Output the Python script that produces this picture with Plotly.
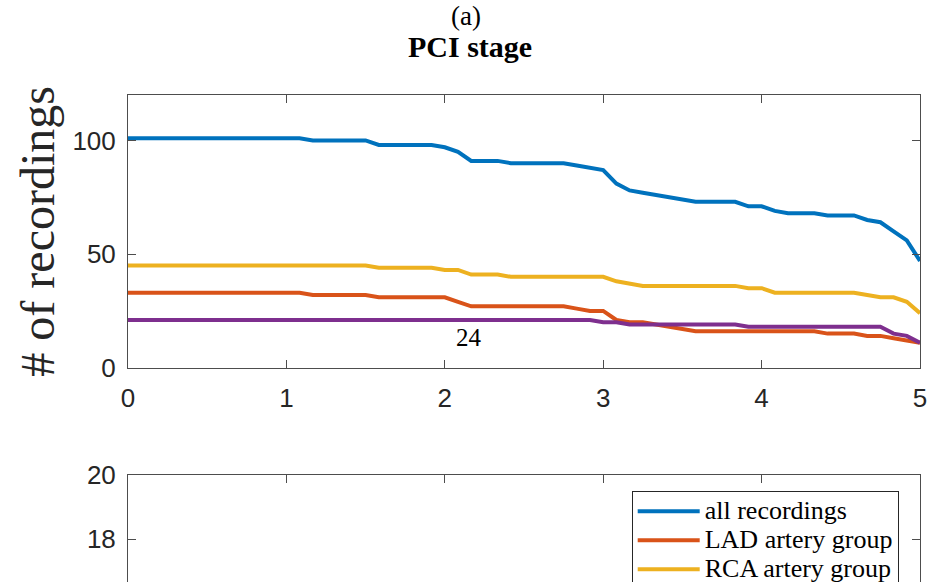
import plotly.graph_objects as go

# ---- data (x in months, shown in years) ----
months = [0, 1, 2, 3, 4, 5, 6, 7, 8, 9, 10, 11, 12, 13, 14, 15, 16, 17, 18, 19, 20,
          21, 22, 23, 24, 25, 26, 27, 28, 29, 30, 31, 32, 33, 34, 35, 36, 37, 38, 39, 40,
          41, 42, 43, 44, 45, 46, 47, 48, 49, 50, 51, 52, 53, 54, 55, 56, 57, 58, 59, 60]

all_recordings = [101, 101, 101, 101, 101, 101, 101, 101, 101, 101, 101, 101, 101, 101,
                  100, 100, 100, 100, 100, 98, 98, 98, 98, 98, 97, 95, 91, 91, 91,
                  90, 90, 90, 90, 90, 89, 88, 87, 81, 78, 77, 76, 75, 74,
                  73, 73, 73, 73, 71, 71, 69, 68, 68, 68, 67, 67, 67, 65, 64, 60, 56, 47]

lad_group = [33, 33, 33, 33, 33, 33, 33, 33, 33, 33, 33, 33, 33, 33,
             32, 32, 32, 32, 32, 31, 31, 31, 31, 31, 31, 29,
             27, 27, 27, 27, 27, 27, 27, 27, 26, 25, 25, 21, 20, 20, 19, 18, 17,
             16, 16, 16, 16, 16, 16, 16, 16, 16, 16, 15, 15, 15, 14, 14, 13, 12, 11]

rca_group = [45, 45, 45, 45, 45, 45, 45, 45, 45, 45, 45, 45, 45, 45, 45, 45, 45, 45, 45,
             44, 44, 44, 44, 44, 43, 43, 41, 41, 41,
             40, 40, 40, 40, 40, 40, 40, 40, 38, 37,
             36, 36, 36, 36, 36, 36, 36, 36, 35, 35,
             33, 33, 33, 33, 33, 33, 33, 32, 31, 31, 29, 24]

lcx_group = [21, 21, 21, 21, 21, 21, 21, 21, 21, 21, 21, 21, 21, 21, 21, 21, 21, 21,
             21, 21, 21, 21, 21, 21, 21, 21, 21, 21, 21, 21, 21, 21, 21, 21, 21, 21,
             20, 20, 19, 19, 19, 19, 19, 19, 19, 19, 19,
             18, 18, 18, 18, 18, 18, 18, 18, 18, 18, 18, 15, 14, 11]

series_names = ["all recordings", "LAD artery group", "RCA artery group", "LCX artery group"]
series_colors = ["#0072BD", "#D95319", "#EDB120", "#7E2F8E"]

x_ticks = [0, 1, 2, 3, 4, 5]
y_ticks_top = [0, 50, 100]
y_ticks_bottom = [18, 20]

panel_label = "(a)"
panel_title = "PCI stage"
y_title = "# of recordings"
note_text = "24"
note_x = 2.15
note_y = 13.3

years = [m / 12 for m in months]

fig = go.Figure()
for name, vals, col in zip(series_names,
                           [all_recordings, lad_group, rca_group, lcx_group],
                           series_colors):
    fig.add_trace(go.Scatter(
        x=years, y=vals, mode="lines",
        name='<span style="font-size:26px">' + name + "</span>",
        line=dict(color=col, width=4),
        xaxis="x", yaxis="y",
        hoverinfo="skip",
    ))

# empty trace so that the lower panel is drawn
fig.add_trace(go.Scatter(x=[], y=[], xaxis="x2", yaxis="y2", showlegend=False,
                         hoverinfo="skip"))

axis_col = "#4d4d4d"
tickfont = dict(family="Liberation Sans, Arial, sans-serif", size=26, color="#262626")
serif = "Liberation Serif, Times New Roman, serif"

common = dict(ticks="inside", ticklen=8, tickwidth=1, tickcolor=axis_col,
              showline=True, linecolor=axis_col, linewidth=1,
              showgrid=False, zeroline=False, tickfont=tickfont, automargin=False)

# The figure is taller than the window: the lower panel continues below the visible area.
H = 700
T = 95
B = 33
plot_h = H - T - B  # 572


def py(pix):
    return (H - B - pix) / plot_h


fig.update_layout(
    width=933, height=H,
    margin=dict(l=128, r=13, t=T, b=B, pad=0),
    paper_bgcolor="white", plot_bgcolor="white",
    xaxis=dict(domain=[0, 1], anchor="y", range=[0, 5], tickvals=x_ticks,
               mirror="ticks", ticklabelstandoff=7, **common),
    yaxis=dict(domain=[py(367.7), 1], anchor="x", range=[0, 120], tickvals=y_ticks_top,
               mirror="ticks", ticklabelstandoff=6,
               title=dict(text=y_title,
                          font=dict(family=serif, size=48, color="#262626"),
                          standoff=2),
               **common),
    xaxis2=dict(domain=[0, 1], anchor="y2", range=[0, 5], tickvals=x_ticks,
                side="top", mirror="ticks", showticklabels=False, **common),
    yaxis2=dict(domain=[0, py(475)], anchor="x2", range=[14, 20],
                tickvals=y_ticks_bottom, mirror="ticks", ticklabelstandoff=6, **common),
    legend=dict(x=(631.7 - 128) / 792, y=py(490.7), xanchor="left", yanchor="top",
                xref="paper", yref="paper",
                bordercolor="#262626", borderwidth=1, bgcolor="white",
                font=dict(family=serif, size=20, color="black"),
                itemwidth=62, tracegroupgap=0),
    showlegend=True,
    annotations=[
        dict(text=panel_label, x=(466 - 128) / 792, y=py(16), xref="paper", yref="paper",
             xanchor="center", yanchor="middle", showarrow=False,
             font=dict(family=serif, size=27, color="black")),
        dict(text="<b>" + panel_title + "</b>", x=(470 - 128) / 792, y=py(46),
             xref="paper", yref="paper", xanchor="center", yanchor="middle",
             showarrow=False, font=dict(family=serif, size=30, color="black")),
        dict(text=note_text, x=note_x, y=note_y, xref="x", yref="y",
             showarrow=False, font=dict(family=serif, size=25, color="black")),
    ],
)

fig.write_html("out.html", config={"displayModeBar": False},
               post_script="document.body.style.margin='0';")
